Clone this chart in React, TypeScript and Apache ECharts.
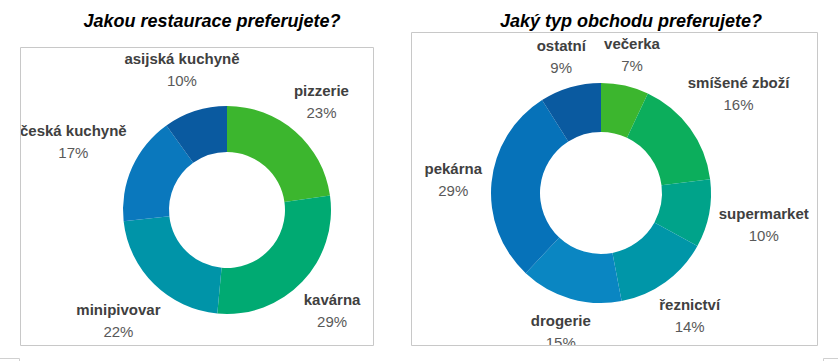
import React, { useEffect, useRef } from "react";
import * as echarts from "echarts";

const restaurantTitle = "Jakou restaurace preferujete?";
const restaurantCategories = ["pizzerie", "kavárna", "minipivovar", "česká kuchyně", "asijská kuchyně"];
const restaurantValues = [23, 29, 22, 17, 10];
const restaurantColors = ["#3cb62e", "#00aa72", "#0094a8", "#0a78bd", "#0a5aa0"];

const shopTitle = "Jaký typ obchodu preferujete?";
const shopCategories = ["večerka", "smíšené zboží", "supermarket", "řeznictví", "drogerie", "pekárna", "ostatní"];
const shopValues = [7, 16, 10, 14, 15, 29, 9];
const shopColors = ["#3cb62e", "#0cae5c", "#00a38a", "#0096a8", "#0a86c2", "#0672b9", "#0a5aa0"];

const FONT = "'Liberation Sans', Arial, sans-serif";

const PIES = [
  { center: [227, 210], radius: [58, 104], values: restaurantValues },
  { center: [601, 193], radius: [61, 110], values: shopValues },
];

function labelPosition(seriesIndex: number, dataIndex: number, w: number, h: number) {
  const p = PIES[seriesIndex];
  const total = p.values.reduce((a, b) => a + b, 0);
  let before = 0;
  for (let i = 0; i < dataIndex; i++) before += p.values[i];
  const mid = ((before + p.values[dataIndex] / 2) / total) * Math.PI * 2;
  const ux = Math.sin(mid);
  const uy = -Math.cos(mid);
  const d = p.radius[1] + 8 + (w / 2) * Math.abs(ux) + (h / 2) * Math.abs(uy);
  return { x: p.center[0] + d * ux, y: p.center[1] + d * uy };
}

function makeSeries(idx: number, cats: string[], vals: number[], colors: string[]) {
  return {
    type: "pie",
    center: PIES[idx].center,
    radius: PIES[idx].radius,
    startAngle: 90,
    clockwise: true,
    avoidLabelOverlap: false,
    silent: true,
    data: cats.map((name, i) => ({ name, value: vals[i], itemStyle: { color: colors[i] } })),
    label: {
      show: true,
      position: "outside",
      formatter: "{n|{b}}\n{p|{c}%}",
      rich: {
        n: { fontFamily: FONT, fontSize: 15, fontWeight: "bold", color: "#404040", lineHeight: 22, align: "center" },
        p: { fontFamily: FONT, fontSize: 15, color: "#595959", lineHeight: 22, align: "center" },
      },
    },
    labelLine: { show: false },
    labelLayout: (params: any) => {
      const r = params.labelRect;
      const pos = labelPosition(idx, params.dataIndex, r.width, r.height);
      return { x: pos.x, y: pos.y, align: "center", verticalAlign: "middle" };
    },
  };
}

export default function App() {
  const ref = useRef<HTMLDivElement>(null);
  useEffect(() => {
    if (!ref.current) return;
    const chart = echarts.init(ref.current, null, { renderer: "svg" });
    chart.setOption({
      animation: false,
      backgroundColor: "#ffffff",
      title: [
        {
          text: restaurantTitle,
          left: 207,
          top: 7,
          textAlign: "center",
          textStyle: { fontFamily: FONT, fontSize: 18, fontWeight: "bold", fontStyle: "italic", color: "#000000" },
        },
        {
          text: shopTitle,
          left: 626,
          top: 7,
          textAlign: "center",
          textStyle: { fontFamily: FONT, fontSize: 18, fontWeight: "bold", fontStyle: "italic", color: "#000000" },
        },
      ],
      graphic: [
        { type: "rect", z: 10, shape: { x: 405, y: 346, width: 420, height: 11 }, style: { fill: "#ffffff" } },
        { type: "rect", z: 11, shape: { x: 20.5, y: 47.5, width: 353, height: 298 }, style: { fill: "none", stroke: "#c8c8c8", lineWidth: 1 } },
        { type: "rect", z: 11, shape: { x: 411.5, y: 32.5, width: 406, height: 313 }, style: { fill: "none", stroke: "#c8c8c8", lineWidth: 1 } },
        { type: "polyline", z: 11, shape: { points: [[0, 358.5], [19.5, 358.5], [19.5, 362]] }, style: { fill: "none", stroke: "#d0d0d0", lineWidth: 1 } },
        { type: "polyline", z: 11, shape: { points: [[823.5, 362], [823.5, 358.5], [838, 358.5]] }, style: { fill: "none", stroke: "#d0d0d0", lineWidth: 1 } },
      ],
      series: [
        makeSeries(0, restaurantCategories, restaurantValues, restaurantColors),
        makeSeries(1, shopCategories, shopValues, shopColors),
      ],
    });
    return () => chart.dispose();
  }, []);
  return <div ref={ref} style={{ position: "fixed", left: 0, top: 0, width: 838, height: 361 }} />;
}
